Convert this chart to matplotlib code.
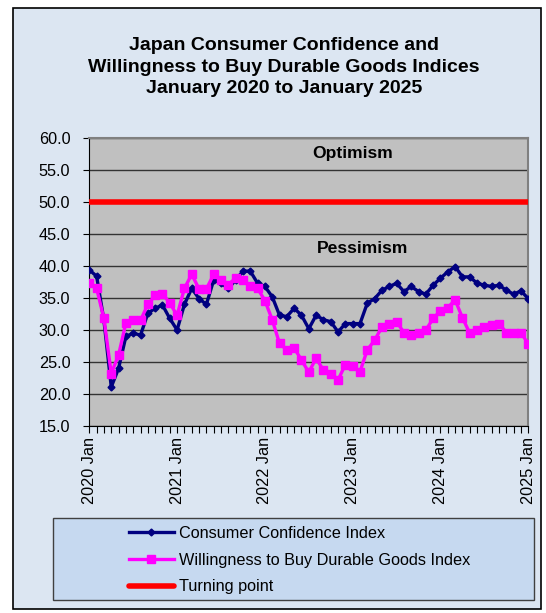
import matplotlib
matplotlib.use('Agg')
import matplotlib.pyplot as plt
from matplotlib.patches import Rectangle
from matplotlib.ticker import MultipleLocator, FormatStrFormatter

plt.rcParams['font.family'] = ['Liberation Sans', 'DejaVu Sans']

# monthly values, Jan 2020 .. Jan 2025
cci = [39.4, 38.4, 31.5, 21.1, 24.0, 29.0, 29.5, 29.2, 32.6, 33.4, 33.9, 31.8,
       30.0, 34.0, 36.5, 34.9, 34.0, 37.8, 37.3, 36.5, 37.8, 39.2, 39.2, 37.3,
       36.8, 35.2, 32.3, 32.1, 33.4, 32.3, 30.2, 32.3, 31.6, 31.3, 29.7, 31.0,
       31.0, 31.0, 34.2, 34.9, 36.2, 36.8, 37.3, 36.0, 36.8, 36.0, 35.6, 37.0,
       38.1, 39.1, 39.9, 38.3, 38.3, 37.3, 37.0, 36.8, 37.0, 36.2, 35.6, 36.1,
       34.9]
durable = [37.3, 36.5, 31.8, 23.2, 26.1, 31.1, 31.5, 31.5, 34.0, 35.4, 35.7, 34.2,
           32.3, 36.5, 38.7, 36.4, 36.4, 38.7, 37.8, 37.1, 38.1, 37.8, 36.8, 36.5,
           34.6, 31.6, 27.9, 26.9, 27.2, 25.3, 23.4, 25.6, 23.7, 23.2, 22.2, 24.6,
           24.3, 23.5, 26.9, 28.4, 30.5, 31.0, 31.3, 29.6, 29.2, 29.6, 30.0, 31.8,
           33.0, 33.5, 34.7, 31.9, 29.5, 30.0, 30.4, 30.8, 31.0, 29.6, 29.6, 29.6,
           27.8]
turning = 50.0
months = list(range(len(cci)))
year_labels = ['2020 Jan', '2021 Jan', '2022 Jan', '2023 Jan', '2024 Jan', '2025 Jan']

W, H = 546, 613
fig = plt.figure(figsize=(W / 100, H / 100), dpi=100)
fig.patch.set_facecolor('white')

def px(x0, y0, x1, y1):
    # pixel box -> figure fraction rect
    return (x0 / W, 1 - y1 / H, (x1 - x0) / W, (y1 - y0) / H)

r = px(13, 8, 541, 609)
fig.patches.append(Rectangle((r[0], r[1]), r[2], r[3], transform=fig.transFigure,
                             facecolor='#dce6f2', edgecolor='black', lw=1.2, zorder=-2))

title_lines = ['Japan Consumer Confidence and',
               'Willingness to Buy Durable Goods Indices',
               'January 2020 to January 2025']
for ty, txt in zip([45, 67.5, 88.5], title_lines):
    fig.text(284 / W, 1 - ty / H, txt, ha='center', va='center',
             fontsize=14, fontweight='bold')

ax = fig.add_axes(px(89.3, 138, 528.3, 426))
ax.set_zorder(2)
ax.set_facecolor('#c0c0c0')

l1, = ax.plot(months, cci, color='#000080', lw=2.4, marker='D', ms=3.5,
              label='Consumer Confidence Index', zorder=3)
l2, = ax.plot(months, durable, color='#ff00ff', lw=2.4, marker='s', ms=6,
              label='Willingness to Buy Durable Goods Index', zorder=4)
l3, = ax.plot(months, [turning] * len(months), color='#ff0000', lw=4,
              label='Turning point', zorder=3, solid_capstyle='round')

ax.set_xlim(0, 60)
ax.set_ylim(15, 60)
ax.yaxis.set_major_locator(MultipleLocator(5))
ax.yaxis.set_major_formatter(FormatStrFormatter('%.1f'))
ax.grid(axis='y', color='#333333', lw=1.0)
ax.set_axisbelow(True)

ax.set_xticks(range(0, 61, 12))
ax.set_xticklabels(year_labels, rotation=90, fontsize=11.7)
ax.xaxis.set_minor_locator(MultipleLocator(1))
ax.tick_params(axis='x', which='both', length=5, width=0.8, pad=3)
ax.tick_params(axis='y', length=4.3, width=0.8, labelsize=11.7, pad=9.4)

for s in ['left', 'bottom']:
    ax.spines[s].set_color('black')
for s in ['top', 'right']:
    ax.spines[s].set_color('#808080')
    ax.spines[s].set_linewidth(1.5)

ax.text(36.0, 57.6, 'Optimism', ha='center', va='center', fontsize=12.6, fontweight='bold')
ax.text(37.3, 42.8, 'Pessimism', ha='center', va='center', fontsize=12.6, fontweight='bold')

r = px(53, 518, 534, 600)
fig.patches.append(Rectangle((r[0], r[1]), r[2], r[3], transform=fig.transFigure,
                             facecolor='#c6d9f0', edgecolor='#404040', lw=1.0, zorder=-1))
leg = fig.legend(handles=[l1, l2, l3], loc='upper left',
                 bbox_to_anchor=(116 / W, 1 - 513 / H),
                 frameon=False, fontsize=11.7, handlelength=2.75, handletextpad=0.3,
                 labelspacing=0.72, borderpad=0.3)
leg.set_zorder(3)

fig.savefig('out.png', dpi=100, facecolor=fig.get_facecolor())
